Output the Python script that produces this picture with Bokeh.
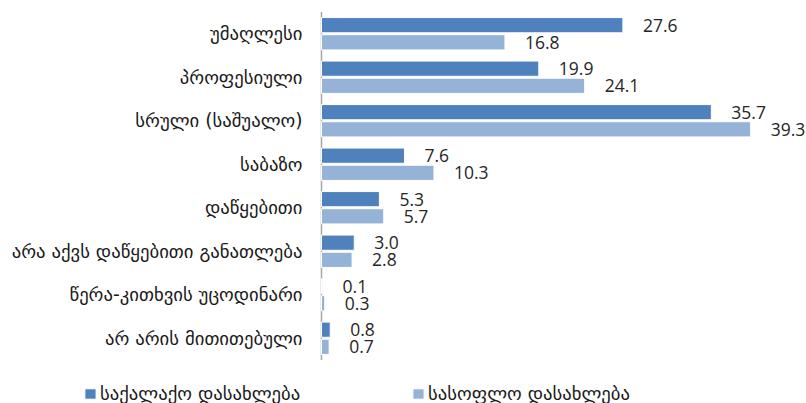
from bokeh.plotting import figure
from bokeh.models import Range1d, Legend, LegendItem, ColumnDataSource
from bokeh.core.properties import value
from bokeh.embed import file_html
from bokeh.resources import INLINE

categories = ["უმაღლესი", "პროფესიული", "სრული (საშუალო)", "საბაზო", "დაწყებითი",
              "არა აქვს დაწყებითი განათლება", "წერა-კითხვის უცოდინარი", "არ არის მითითებული"]
urban = [27.6, 19.9, 35.7, 7.6, 5.3, 3.0, 0.1, 0.8]
rural = [16.8, 24.1, 39.3, 10.3, 5.7, 2.8, 0.3, 0.7]
series_names = ["საქალაქო დასახლება", "სასოფლო დასახლება"]
colors = ["#4F81BD", "#95B3D7"]

n = len(categories)
pos = list(range(n))  # 0 = top category
off = 0.197
src = ColumnDataSource(dict(
    cat=categories, pos=pos,
    y_u=[i - off for i in pos], y_r=[i + off for i in pos],
    urban=urban, rural=rural,
    urban_lbl=[f"{v:.1f}" for v in urban],
    rural_lbl=[f"{v:.1f}" for v in rural],
    zero=[0] * n,
))

# scale: 10.92 px per percent, axis at 321px; 43.5px per category
p = figure(width=806, height=403,
           x_range=Range1d(-321 / 10.92, (806 - 321) / 10.92),
           y_range=Range1d((403 - 33.25) / 43.5, -33.25 / 43.5),
           output_backend="svg", toolbar_location=None,
           min_border=0, min_border_left=0, min_border_right=0,
           min_border_top=0, min_border_bottom=0)
p.axis.visible = False
p.grid.visible = False
p.outline_line_color = None

# category axis line
p.segment(x0=0, x1=0, y0=-0.5, y1=n - 0.5, line_color="#A6A6A6", line_width=1.5)

r1 = p.hbar(y="y_u", right="urban", left=0, height=0.35, source=src,
            fill_color=colors[0], line_color="white", line_width=1)
r2 = p.hbar(y="y_r", right="rural", left=0, height=0.35, source=src,
            fill_color=colors[1], line_color="white", line_width=1)

for col, lbl, yc in (("urban", "urban_lbl", "y_u"), ("rural", "rural_lbl", "y_r")):
    p.text(x=col, y=yc, text=lbl, source=src,
           x_offset=20, text_baseline="middle", text_align="left",
           text_font=value("Open Sans"), text_font_size="17.5px", text_color="#262626")

# category labels
p.text(x="zero", y="pos", text="cat", source=src, x_offset=-19,
       text_baseline="middle", text_align="right",
       text_font=value("DejaVu Sans"), text_font_size="18.7px", text_color="#1a1a1a")

for name, r, x in ((series_names[0], r1, 83), (series_names[1], r2, 411)):
    leg = Legend(items=[LegendItem(label=name, renderers=[r])],
                 location=(x, -1), orientation="horizontal",
                 padding=0, margin=0, border_line_color=None,
                 background_fill_alpha=0, glyph_width=14, glyph_height=13,
                 label_standoff=3, label_text_font="DejaVu Sans",
                 label_text_font_size="18.7px", label_text_color="#1a1a1a")
    p.add_layout(leg)

open("out.html", "w").write(file_html(p, INLINE))
